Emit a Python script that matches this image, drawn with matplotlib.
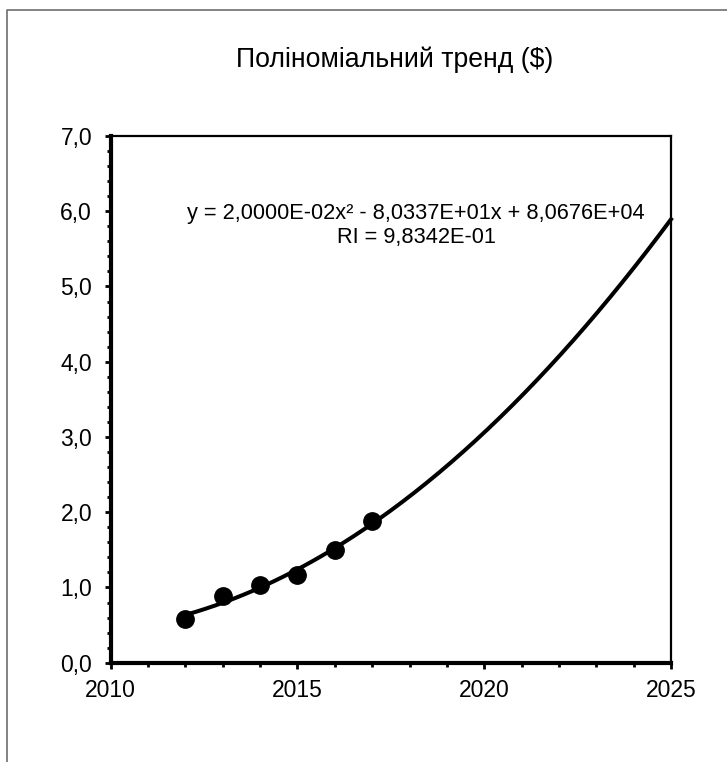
import matplotlib

matplotlib.use("Agg")
import matplotlib.pyplot as plt
import numpy as np
from matplotlib.lines import Line2D
from matplotlib.ticker import FuncFormatter, MultipleLocator

plt.rcParams["font.family"] = ["Liberation Sans", "DejaVu Sans"]

# data
years = [2012, 2013, 2014, 2015, 2016, 2017]
price = [0.58, 0.885, 1.03, 1.165, 1.50, 1.88]
title = "Поліноміальний тренд ($)"
eq_text = "y = 2,0000E-02x² - 8,0337E+01x + 8,0676E+04\nRI = 9,8342E-01"

W, H = 727, 762
fig = plt.figure(figsize=(W / 100, H / 100), dpi=100)
ax = fig.add_axes([110.7 / W, 1 - 662.7 / H, (671 - 110.7) / W, (662.7 - 136) / H])

# quadratic trend fitted to the points, drawn to the end of the axis
coef = np.polyfit(years, price, 2)
xt = np.linspace(years[0], 2025, 200)
ax.plot(xt, np.polyval(coef, xt), color="black", lw=2.9, zorder=2, clip_on=False)
ax.plot(years, price, "o", color="black", ms=12.5, zorder=3, clip_on=False)

ax.set_xlim(2010, 2025)
ax.set_ylim(0, 7)
ax.xaxis.set_major_locator(MultipleLocator(5))
ax.xaxis.set_minor_locator(MultipleLocator(1))
ax.yaxis.set_major_locator(MultipleLocator(1))
ax.yaxis.set_minor_locator(MultipleLocator(0.2))
ax.yaxis.set_major_formatter(FuncFormatter(lambda v, p: f"{v:.1f}".replace(".", ",")))
ax.tick_params(axis="both", which="major", length=4.6, width=2.0, labelsize=16.5)
ax.tick_params(axis="both", which="minor", length=3.2, width=2.0)
ax.tick_params(axis="y", which="major", pad=8.8)
ax.tick_params(axis="x", which="major", pad=7.2)

ax.spines["left"].set_linewidth(3)
ax.spines["bottom"].set_linewidth(3)
ax.spines["top"].set_linewidth(1.6)
ax.spines["right"].set_linewidth(1.6)

ax.text(0.545, 0.873, eq_text, transform=ax.transAxes, ha="center", va="top",
        fontsize=15.7, linespacing=1.2)

fig.text(395 / W, 1 - 60 / H, title, ha="center", va="center", fontsize=19.2)

# outer frame (only top and left edges show)
fig.add_artist(Line2D([7 / W, 7 / W, 1], [0, 1 - 10 / H, 1 - 10 / H],
                      transform=fig.transFigure, color="#6e6e6e", lw=1.2))

fig.savefig("out.png", dpi=100)
